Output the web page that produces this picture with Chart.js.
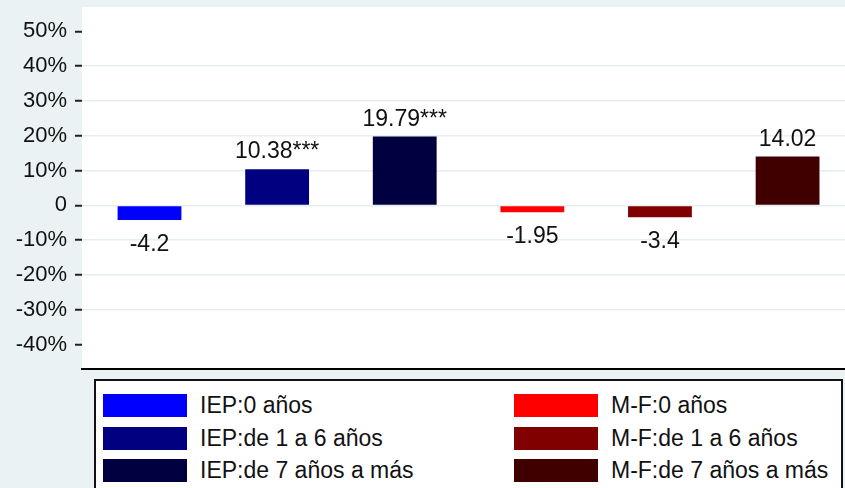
<!DOCTYPE html>
<html><head><meta charset="utf-8">
<script src="https://cdn.jsdelivr.net/npm/chart.js@4"></script>
<style>
html,body{margin:0;padding:0;background:#eaf2f3;width:845px;height:488px;overflow:hidden;}
#wrap{position:relative;width:845px;height:488px;}
canvas{position:absolute;left:0;top:0;}
#legend{position:absolute;left:94px;top:379px;width:745px;height:120px;border:2px solid #111;background:#fff;font-family:"Liberation Sans",Arial,sans-serif;font-size:23px;color:#111;}
.item{position:absolute;display:flex;align-items:center;height:24px;white-space:nowrap;}
.sw{width:84px;height:23px;margin-right:13px;flex:none;}
</style></head>
<body><div id="wrap"><canvas id="c" width="845" height="488"></canvas><div id="legend"></div></div>
<script>
const categories = ["IEP:0 años","IEP:de 1 a 6 años","IEP:de 7 años a más","M-F:0 años","M-F:de 1 a 6 años","M-F:de 7 años a más"];
const values = [-4.2, 10.38, 19.79, -1.95, -3.4, 14.02];
const stars = ["", "***", "***", "", "", ""];
const colors = ["#0000ff","#000080","#000040","#ff0000","#800000","#400000"];
const tickValues = [-40,-30,-20,-10,0,10,20,30,40,50];
const tickLabels = ["-40%","-30%","-20%","-10%","0","10%","20%","30%","40%","50%"];

const FONT = '"Liberation Sans", Arial, sans-serif';

const plotBg = {
  id:'plotBg',
  beforeDraw(chart){
    const {ctx, chartArea:a} = chart;
    ctx.save(); ctx.fillStyle = '#ffffff';
    ctx.fillRect(a.left, a.top, a.right - a.left, a.bottom - a.top);
    ctx.restore();
  }
};
const valueLabels = {
  id:'valueLabels',
  afterDatasetsDraw(chart){
    const ctx = chart.ctx;
    const meta = chart.getDatasetMeta(0);
    ctx.save();
    ctx.font = '23px ' + FONT;
    ctx.fillStyle = '#111';
    ctx.textAlign = 'center';
    ctx.textBaseline = 'alphabetic';
    meta.data.forEach((el, i) => {
      const v = values[i];
      const txt = String(v) + stars[i];
      const y = v >= 0 ? el.y - 11 : el.y + 31;
      ctx.fillText(txt, el.x, y);
    });
    ctx.restore();
  }
};

const chart = new Chart(document.getElementById('c'), {
  type:'bar',
  data:{
    datasets:[{
      label:'valores',
      data: values.map((v,i)=>({x:i, y:v})),
      backgroundColor: colors,
      borderWidth: 0,
      barPercentage: 0.5,
      categoryPercentage: 1
    }]
  },
  options:{
    responsive:false,
    animation:false,
    layout:{autoPadding:false, padding:{top:7, right:0, bottom:119, left:0}},
    plugins:{legend:{display:false}, tooltip:{enabled:false}},
    scales:{
      x:{
        type:'linear', min:-0.529, max:5.45, offset:false,
        afterBuildTicks: s => { s.ticks = [0,1,2,3,4,5].map(v=>({value:v})); },
        afterFit: s => { s.height = 0; s.paddingLeft = 0; s.paddingRight = 0; },
        ticks:{display:false},
        grid:{display:false},
        border:{display:true, color:'#000', width:2}
      },
      y:{
        min:-47, max:57,
        afterBuildTicks: s => { s.ticks = tickValues.map(v=>({value:v})); },
        afterFit: s => { s.width = 82; s.paddingTop = 0; s.paddingBottom = 0; },
        ticks:{
          callback: v => tickLabels[tickValues.indexOf(v)],
          font:{family:FONT, size:22},
          color:'#111',
          padding:8
        },
        grid:{
          color: ctx => (ctx.tick && (ctx.tick.value === 50 || ctx.tick.value === -40)) ? 'rgba(0,0,0,0)' : '#e6eef0',
          lineWidth: 1.5,
          tickColor:'#222',
          tickLength:7,
          tickWidth:2,
          drawOnChartArea:true
        },
        border:{display:false}
      }
    }
  },
  plugins:[plotBg, valueLabels]
});

// HTML legend built from the data arrays
const legend = document.getElementById('legend');
const colLeft = [7, 418];
const rowTop = [12, 45, 77];
categories.forEach((c, i) => {
  const col = Math.floor(i / 3), row = i % 3;
  const item = document.createElement('div');
  item.className = 'item';
  item.style.left = colLeft[col] + 'px';
  item.style.top = rowTop[row] + 'px';
  const sw = document.createElement('span');
  sw.className = 'sw';
  sw.style.background = colors[i];
  const lb = document.createElement('span');
  lb.textContent = c;
  item.appendChild(sw); item.appendChild(lb);
  legend.appendChild(item);
});
</script>
</body></html>
